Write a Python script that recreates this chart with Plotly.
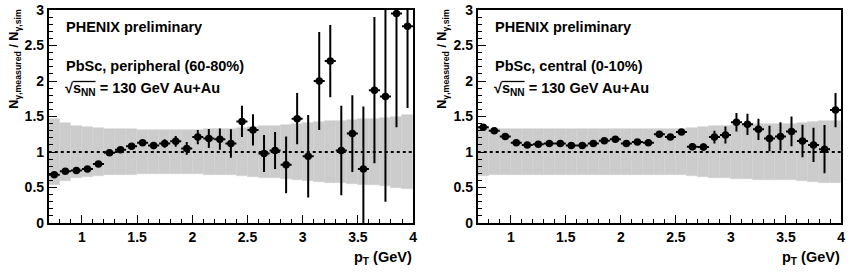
import plotly.graph_objects as go

# ---------------- data ----------------
pt = [0.75, 0.85, 0.95, 1.05, 1.15, 1.25, 1.35, 1.45, 1.55, 1.65, 1.75,
      1.85, 1.95, 2.05, 2.15, 2.25, 2.35, 2.45, 2.55, 2.65, 2.75, 2.85,
      2.95, 3.05, 3.15, 3.25, 3.35, 3.45, 3.55, 3.65, 3.75, 3.85, 3.95]
bin_half_width = 0.05

# peripheral (60-80%)
ratio_per = [0.68, 0.73, 0.74, 0.76, 0.83, 0.99, 1.03, 1.08, 1.13, 1.09, 1.12,
             1.15, 1.05, 1.21, 1.19, 1.18, 1.12, 1.43, 1.31, 0.98, 1.02, 0.82,
             1.47, 0.94, 2.00, 2.28, 1.02, 1.26, 0.76, 1.87, 1.78, 2.95, 2.77]
err_per = [0.02, 0.02, 0.02, 0.02, 0.02, 0.02, 0.02, 0.03, 0.04, 0.05, 0.06,
           0.075, 0.09, 0.10, 0.135, 0.15, 0.20, 0.22, 0.22, 0.26, 0.26, 0.40,
           0.36, 0.58, 0.69, 0.51, 0.63, 0.54, 0.88, 1.03, 1.48, 1.60, 1.15]
sys_per = [0.46, 0.41, 0.37, 0.35, 0.34, 0.33, 0.32, 0.32, 0.31, 0.31, 0.31,
           0.31, 0.31, 0.31, 0.32, 0.32, 0.33, 0.34, 0.35, 0.36, 0.37, 0.38,
           0.40, 0.41, 0.42, 0.43, 0.44, 0.45, 0.46, 0.47, 0.48, 0.50, 0.52]

# central (0-10%)
ratio_cen = [1.35, 1.30, 1.22, 1.13, 1.10, 1.11, 1.12, 1.12, 1.09, 1.09, 1.12,
             1.16, 1.18, 1.12, 1.14, 1.13, 1.25, 1.21, 1.28, 1.075, 1.07, 1.21,
             1.24, 1.42, 1.39, 1.32, 1.19, 1.22, 1.29, 1.155, 1.10, 1.04, 1.59]
err_cen = [0.02, 0.02, 0.02, 0.02, 0.02, 0.02, 0.02, 0.02, 0.02, 0.02, 0.02,
           0.02, 0.02, 0.02, 0.02, 0.02, 0.03, 0.04, 0.04, 0.05, 0.05, 0.09,
           0.12, 0.13, 0.15, 0.15, 0.18, 0.20, 0.21, 0.23, 0.24, 0.34, 0.24]
sys_cen = [0.34, 0.33, 0.33, 0.33, 0.33, 0.32, 0.32, 0.32, 0.32, 0.32, 0.32,
           0.32, 0.32, 0.32, 0.32, 0.32, 0.33, 0.33, 0.33, 0.34, 0.35, 0.36,
           0.37, 0.38, 0.38, 0.39, 0.39, 0.40, 0.40, 0.41, 0.42, 0.43, 0.44]

ref_level = 1.0
x_range = [0.7, 4.0]
y_range = [0, 3]
x_ticks = [1, 1.5, 2, 2.5, 3, 3.5, 4]
x_tick_labels = ["1", "1.5", "2", "2.5", "3", "3.5", "4"]
y_ticks = [0, 0.5, 1, 1.5, 2, 2.5, 3]
y_tick_labels = ["0", "0.5", "1", "1.5", "2", "2.5", "3"]

panels = [
    dict(ratio=ratio_per, err=err_per, sys=sys_per, label="PbSc, peripheral (60-80%)"),
    dict(ratio=ratio_cen, err=err_cen, sys=sys_cen, label="PbSc, central (0-10%)"),
]

# ---------------- figure ----------------
W, H = 852, 272
FONT = "Liberation Sans"
fig = go.Figure()

domains = [[49 / W, 415 / W], [480 / W, 845 / W]]

for i, p in enumerate(panels):
    xa = "x" if i == 0 else "x2"
    ya = "y" if i == 0 else "y2"
    lo = [ref_level - s for s in p["sys"]]
    hi = [2 * s for s in p["sys"]]
    fig.add_trace(go.Bar(x=pt, y=hi, base=lo, width=2 * bin_half_width,
                         marker=dict(color="#cccccc", line=dict(color="#d3d3d3", width=0.6)),
                         xaxis=xa, yaxis=ya, showlegend=False, hoverinfo="skip"))
    fig.add_trace(go.Scatter(x=x_range, y=[ref_level, ref_level], mode="lines",
                             line=dict(color="black", width=2, dash="3px,3px"),
                             xaxis=xa, yaxis=ya, showlegend=False, hoverinfo="skip"))
    fig.add_trace(go.Scatter(x=pt, y=p["ratio"], mode="markers",
                             marker=dict(color="black", size=7.5, symbol="circle"),
                             error_y=dict(type="data", array=p["err"], color="black",
                                          thickness=2, width=0),
                             error_x=dict(type="constant", value=bin_half_width, color="black",
                                          thickness=2, width=0),
                             xaxis=xa, yaxis=ya, showlegend=False))

axis_common = dict(showline=True, linecolor="black", linewidth=1.8, mirror=True,
                   ticks="inside", tickcolor="black", tickwidth=1.2, ticklen=8,
                   showgrid=False, zeroline=False,
                   tickfont=dict(family=FONT, size=14, color="black", weight="bold"))

for i in range(2):
    sfx = "" if i == 0 else "2"
    fig.update_layout(**{
        "xaxis" + sfx: dict(axis_common, domain=domains[i], range=x_range,
                            tickvals=x_ticks, ticktext=x_tick_labels,
                            anchor="y" + sfx,
                            minor=dict(ticks="inside", dtick=0.1, ticklen=4,
                                       tickcolor="black", tickwidth=1.2)),
        "yaxis" + sfx: dict(axis_common, domain=[0, 1], range=y_range,
                            tickvals=y_ticks, ticktext=y_tick_labels,
                            anchor="x" + sfx,
                            minor=dict(ticks="inside", dtick=0.1, ticklen=4,
                                       tickcolor="black", tickwidth=1.2)),
    })

def pya(py):
    return (223 - py) / 213.0

annotations = []
shapes = []
text_font = dict(family=FONT, size=14.5, color="black", weight="bold")
text_left_px = [64, 495]
ytitle_x = [15 / W, 445 / W]
for i, p in enumerate(panels):
    tx = text_left_px[i] / W
    annotations += [
        dict(text="PHENIX preliminary", x=tx, y=pya(27), xref="paper", yref="paper",
             xanchor="left", yanchor="middle", showarrow=False, font=text_font),
        dict(text=p["label"], x=tx, y=pya(65.5), xref="paper", yref="paper",
             xanchor="left", yanchor="middle", showarrow=False, font=text_font),
        dict(text="√s<sub>NN</sub> = 130 GeV Au+Au", x=tx - 1 / W, y=pya(89),
             xref="paper", yref="paper", xanchor="left", yanchor="middle",
             showarrow=False, font=text_font),
        dict(text="N<sub>γ,measured</sub> / N<sub>γ,sim</sub>", x=ytitle_x[i], y=1.015,
             xref="paper", yref="paper", xanchor="center", yanchor="top",
             textangle=-90, showarrow=False, font=dict(text_font, size=12.5)),
        dict(text="p<sub>T</sub> (GeV)", x=domains[i][1] + 1 / W, y=pya(258),
             xref="paper", yref="paper", xanchor="right", yanchor="middle",
             showarrow=False, font=text_font),
    ]
    # overline of the square-root sign
    shapes.append(dict(type="line", xref="paper", yref="paper",
                       x0=(text_left_px[i] + 9) / W, x1=(text_left_px[i] + 32) / W,
                       y0=pya(81.5), y1=pya(81.5),
                       line=dict(color="black", width=1.3)))

fig.update_layout(width=W, height=H, margin=dict(l=0, r=0, t=10, b=49),
                  paper_bgcolor="white", plot_bgcolor="white",
                  bargap=0, barmode="overlay", annotations=annotations, shapes=shapes,
                  font=dict(family=FONT, color="black"))

fig.write_html("out.html", config={"displayModeBar": False},
               post_script="document.body.style.margin='0';document.body.style.padding='0';")
